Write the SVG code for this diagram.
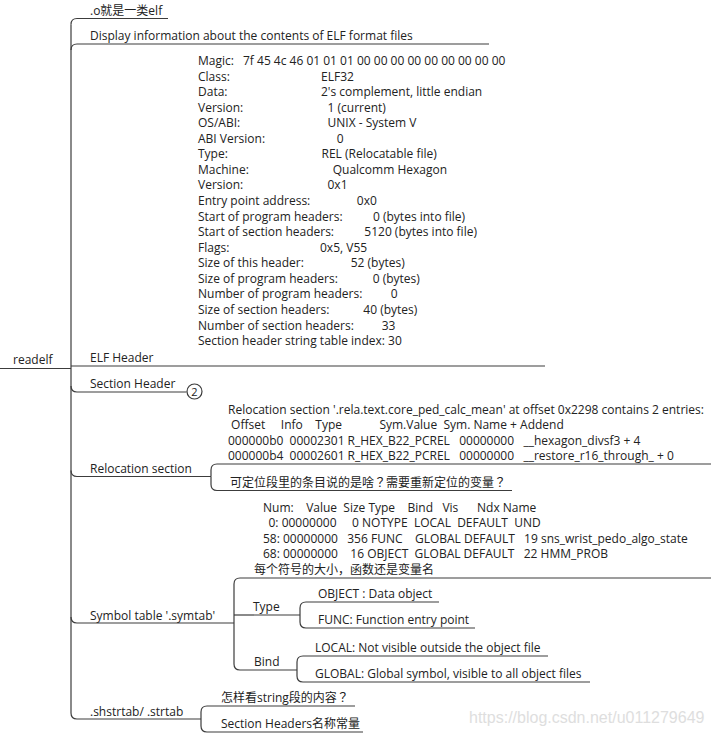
<svg xmlns="http://www.w3.org/2000/svg" width="711" height="736" viewBox="0 0 711 736">
<style>
text{font-family:"Open Sans","Noto Sans CJK SC",sans-serif;font-size:12px;fill:#222;white-space:pre}
.q{font-family:"Noto Sans CJK JP","Noto Sans CJK SC",sans-serif}
.ln{fill:none;stroke:#3c3c3c;stroke-width:1.2}
.wm{font-family:"Liberation Sans",Arial,sans-serif;font-size:16px;fill:#dedede}
</style>
<rect width="711" height="736" fill="#fff"/>
<g id="connectors" class="ln">
<path d="M71,24.5 Q71,18.5 77,18.5"/>
<path d="M71,50 Q71,44 77,44"/>
<path d="M71,24.5 V713"/>
<path d="M0,368.5 H71"/>
<path d="M71,386 Q71,392 77,392"/>
<path d="M71,470.5 Q71,476.5 77,476.5"/>
<path d="M71,617 Q71,623 77,623"/>
<path d="M71,713 Q71,719 77,719"/>
<path d="M211,476.5 V470 Q211,464 217,464"/>
<path d="M211,476.5 V484.5 Q211,490.5 217,490.5"/>
<path d="M234,623 V584 Q234,578 240,578"/>
<path d="M234,623 V664 Q234,670 240,670"/>
<path d="M234,615 H254"/>
<path d="M300,615 V608 Q300,602 306,602"/>
<path d="M300,615 V622 Q300,628 306,628"/>
<path d="M297,670 V662 Q297,656 303,656"/>
<path d="M297,670 V676 Q297,682 303,682"/>
<path d="M201,719 V712 Q201,706 207,706"/>
<path d="M201,719 V726 Q201,732 207,732"/>
</g>
<g id="root">
<text x="13" y="364">readelf</text>
</g>
<g id="n-o-elf">
<text x="90" y="15">.o就是一类elf</text>
<path class="ln" d="M77,18.5 H168"/>
</g>
<g id="n-display">
<text x="90" y="39.5">Display information about the contents of ELF format files</text>
<path class="ln" d="M77,44 H489"/>
</g>
<g id="n-elf-header">
<text x="198" y="65">Magic:<tspan x="243">7f 45 4c 46 01 01 01 00 00 00 00 00 00 00 00 00</tspan></text>
<text x="198" y="80.56">Class:<tspan x="321">ELF32</tspan></text>
<text x="198" y="96.12">Data:<tspan x="321">2's complement, little endian</tspan></text>
<text x="198" y="111.68">Version:<tspan x="327.5">1 (current)</tspan></text>
<text x="198" y="127.24">OS/ABI:<tspan x="327.5">UNIX - System V</tspan></text>
<text x="198" y="142.8">ABI Version:<tspan x="336.7">0</tspan></text>
<text x="198" y="158.36">Type:<tspan x="321.5">REL (Relocatable file)</tspan></text>
<text x="198" y="173.92">Machine:<tspan x="332.7">Qualcomm Hexagon</tspan></text>
<text x="198" y="189.48">Version:<tspan x="327.5">0x1</tspan></text>
<text x="198" y="205.04">Entry point address:<tspan x="356.8">0x0</tspan></text>
<text x="198" y="220.6">Start of program headers:<tspan x="373">0 (bytes into file)</tspan></text>
<text x="198" y="236.16">Start of section headers:<tspan x="364.3">5120 (bytes into file)</tspan></text>
<text x="198" y="251.72">Flags:<tspan x="320">0x5, V55</tspan></text>
<text x="198" y="267.28">Size of this header:<tspan x="350.7">52 (bytes)</tspan></text>
<text x="198" y="282.84">Size of program headers:<tspan x="372.7">0 (bytes)</tspan></text>
<text x="198" y="298.4">Number of program headers:<tspan x="390.7">0</tspan></text>
<text x="198" y="313.96">Size of section headers:<tspan x="363.3">40 (bytes)</tspan></text>
<text x="198" y="329.52">Number of section headers:<tspan x="381.7">33</tspan></text>
<text x="198" y="345.08">Section header string table index: 30</text>
<text x="90" y="361.5">ELF Header</text>
<path class="ln" d="M71,366 H545"/>
</g>
<g id="n-section-header">
<text x="90" y="387.5">Section Header</text>
<path class="ln" d="M77,392 H186.5"/>
<circle cx="194.5" cy="391.5" r="7.5" fill="#fff" stroke="#3c3c3c" stroke-width="1.2"/>
<text x="194.5" y="395.5" text-anchor="middle" style="font-size:11px">2</text>
</g>
<g id="n-relocation">
<text x="90" y="472.5">Relocation section</text>
<path class="ln" d="M77,476.5 H211"/>
</g>
<g id="n-relocation-entries">
<text x="228" y="413.5">Relocation section '.rela.text.core_ped_calc_mean' at offset 0x2298 contains 2 entries:</text>
<text x="228" y="429.1"> Offset     Info    Type            Sym.Value  Sym. Name + Addend</text>
<text x="228" y="444.7">000000b0  00002301 R_HEX_B22_PCREL   00000000   __hexagon_divsf3 + 4</text>
<text x="228" y="460.3">000000b4  00002601 R_HEX_B22_PCREL   00000000   __restore_r16_through_ + 0</text>
<path class="ln" d="M217,464 H711"/>
</g>
<g id="n-relocation-question">
<text x="230" y="486.5">可定位段里的条目说的是啥<tspan class="q">？</tspan>需要重新定位的变量<tspan class="q">？</tspan></text>
<path class="ln" d="M217,490.5 H512"/>
</g>
<g id="n-symtab">
<text x="90" y="619.5">Symbol table '.symtab'</text>
<path class="ln" d="M77,623 H234"/>
</g>
<g id="n-symtab-entries">
<text x="263" y="511.5">Num:    Value  Size Type    Bind   Vis      Ndx Name</text>
<text x="268.5" y="527">0: 00000000     0 NOTYPE  LOCAL  DEFAULT  UND</text>
<text x="263" y="542.5">58: 00000000   356 FUNC    GLOBAL DEFAULT   19 sns_wrist_pedo_algo_state</text>
<text x="263" y="558">68: 00000000    16 OBJECT  GLOBAL DEFAULT   22 HMM_PROB</text>
<text x="254" y="573.5">每个符号的大小，函数还是变量名</text>
<path class="ln" d="M240,578 H711"/>
</g>
<g id="n-type">
<text x="253" y="611">Type</text>
<path class="ln" d="M254,615 H300"/>
</g>
<g id="n-object">
<text x="318" y="597.5">OBJECT : Data object</text>
<path class="ln" d="M306,602 H439"/>
</g>
<g id="n-func">
<text x="318" y="623.5">FUNC: Function entry point</text>
<path class="ln" d="M306,628 H475"/>
</g>
<g id="n-bind">
<text x="254" y="666">Bind</text>
<path class="ln" d="M240,670 H297"/>
</g>
<g id="n-local">
<text x="315" y="651.5">LOCAL: Not visible outside the object file</text>
<path class="ln" d="M303,656 H548"/>
</g>
<g id="n-global">
<text x="315" y="677.5">GLOBAL: Global symbol, visible to all object files</text>
<path class="ln" d="M303,682 H590"/>
</g>
<g id="n-strtab">
<text x="90" y="715.5">.shstrtab/ .strtab</text>
<path class="ln" d="M77,719 H201"/>
</g>
<g id="n-strtab-q">
<text x="221" y="701.5">怎样看string段的内容<tspan class="q">？</tspan></text>
<path class="ln" d="M207,706 H355"/>
</g>
<g id="n-strtab-names">
<text x="221" y="727.5">Section Headers名称常量</text>
<path class="ln" d="M207,732 H363"/>
</g>
<text class="wm" x="469" y="722.5">https://blog.csdn.net/u011279649</text>
</svg>
